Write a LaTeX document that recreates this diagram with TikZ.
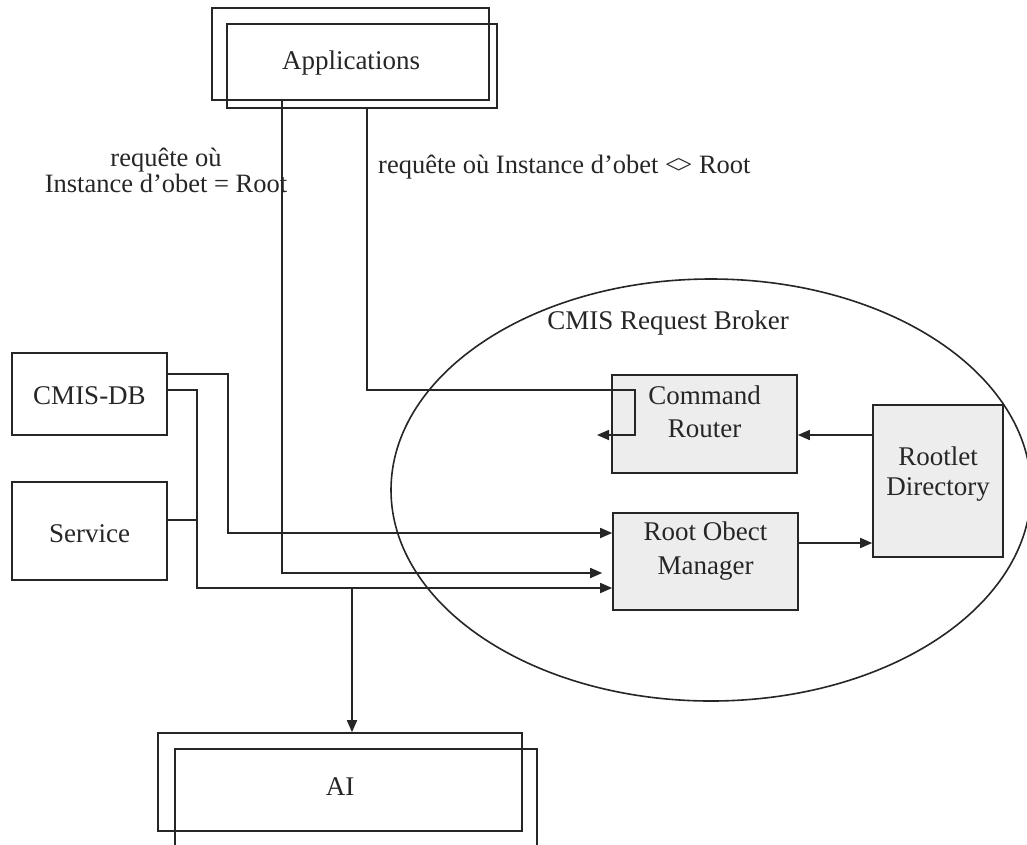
\documentclass[tikz,border=0pt]{standalone}
\usepackage{fontspec}
\setmainfont{Liberation Serif}
\usetikzlibrary{arrows.meta,shapes.geometric}
\begin{document}
\begin{tikzpicture}[x=1pt,y=-1pt,
  every node/.style={font=\fontsize{27}{30}\selectfont, text=black!85},
  ln/.style={draw=black!85, line width=1.6pt},
  arr/.style={ln, -{Triangle[length=12pt,width=10pt]}},
  plainbox/.style 2 args={rectangle, ln, inner sep=0pt, minimum width=#1pt, minimum height=#2pt},
  graybox/.style 2 args={plainbox={#1}{#2}, fill=black!7},
  lbl/.style={inner sep=0pt, align=center}]
\useasboundingbox (0,0) rectangle (1027,844);
\clip (0,0) rectangle (1027,844);
\fill[white] (0,0) rectangle (1027,844);

% CMIS request broker
\node[ellipse, ln, inner sep=0pt, minimum width=640pt, minimum height=422pt] (broker) at (711,490) {};
\node[lbl] (brokert) at (668,323) {CMIS Request Broker};

% Applications
\node[plainbox={277}{92}] (app1) at (350.5,54) {};
\node[plainbox={270}{84}] (app2) at (362,66) {};
\node[lbl] (appt) at (351,63) {Applications};

% boxes in the broker
\node[graybox={185}{98}] (cmr) at (704.5,424) {};
\node[lbl, font=\fontsize{27}{33}\selectfont] (cmrt) at (704.5,412) {Command\\Router};
\node[graybox={185}{97}] (rom) at (705.5,561.5) {};
\node[lbl, font=\fontsize{27}{34}\selectfont] (romt) at (705.5,551) {Root Obect\\Manager};
\node[graybox={130}{152}] (rd) at (938,481) {};
\node[lbl, font=\fontsize{27}{30}\selectfont] (rdt) at (938,474) {Rootlet\\Directory};

% left boxes
\node[plainbox={155}{82}] (db) at (89.5,394) {};
\node[lbl] (dbt) at (89.5,396) {CMIS-DB};
\node[plainbox={155}{98}] (svc) at (89.5,531) {};
\node[lbl] (svct) at (89.5,534) {Service};

% AI
\node[plainbox={364}{98}] (ai1) at (340,782) {};
\node[plainbox={362}{98}] (ai2) at (356,798) {};
\node[lbl] (ait) at (340,787) {AI};

% labels
\node[lbl, font=\fontsize{26.5}{26}\selectfont] (lab1) at (166,170) {requête où\\Instance d'obet = Root};
\node[lbl, anchor=west, font=\fontsize{26.5}{26}\selectfont] (lab2) at (378,167) {requête où Instance d'obet <\kern-0.1em> Root};

% coordinates
\coordinate (a1) at (282,573);
\coordinate (c1) at (367,390);
\coordinate (c2) at (635,390);
\coordinate (c3) at (635,435);
\coordinate (c4) at (597,435);
\coordinate (r1) at (800,543);
\coordinate (d1) at (228,374);
\coordinate (d2) at (228,533);
\coordinate (e1) at (197,390);
\coordinate (e2) at (197,588);
\coordinate (s1) at (197,520);
\coordinate (v1) at (352,588);

% connectors
\draw[arr] (app1.south -| a1) -- (a1) -- ([xshift=-10pt]rom.west |- a1);
\draw[arr] (app2.south -| c1) -- (c1) -- (c2) -- (c3) -- (c4);
\draw[arr] (rd.west |- c3) -- (cmr.east |- c3);
\draw[arr] (rom.east |- r1) -- (rd.west |- r1);
\draw[arr] (db.east |- d1) -- (d1) -- (d2) -- (rom.west |- d2);
\draw[arr] (db.east |- e1) -- (e1) -- (e2) -- (rom.west |- e2);
\draw[ln] (svc.east |- s1) -- (s1);
\draw[arr] (v1) -- (ai1.north -| v1);
\end{tikzpicture}
\end{document}
